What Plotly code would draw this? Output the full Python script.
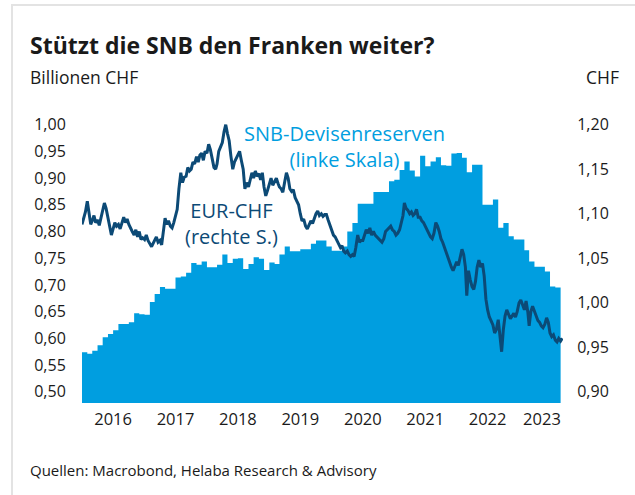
import plotly.graph_objects as go
import pandas as pd

# ---------------- data ----------------
# SNB foreign currency reserves, trillion CHF, monthly Jan 2016 .. Aug 2023
reserves_2016 = [0.574, 0.571, 0.577, 0.587, 0.602, 0.608, 0.615, 0.627, 0.627, 0.630, 0.647, 0.645]
reserves_2017 = [0.644, 0.668, 0.683, 0.696, 0.693, 0.693, 0.714, 0.716, 0.723, 0.741, 0.738, 0.744]
reserves_2018 = [0.733, 0.733, 0.738, 0.757, 0.741, 0.749, 0.750, 0.730, 0.739, 0.752, 0.749, 0.728]
reserves_2019 = [0.742, 0.739, 0.757, 0.772, 0.763, 0.763, 0.767, 0.767, 0.777, 0.783, 0.783, 0.772]
reserves_2020 = [0.764, 0.764, 0.772, 0.800, 0.816, 0.852, 0.852, 0.852, 0.874, 0.874, 0.874, 0.894]
reserves_2021 = [0.897, 0.915, 0.931, 0.914, 0.903, 0.942, 0.922, 0.931, 0.939, 0.924, 0.923, 0.946]
reserves_2022 = [0.947, 0.938, 0.911, 0.925, 0.925, 0.850, 0.850, 0.860, 0.807, 0.816, 0.791, 0.785]
reserves_2023 = [0.785, 0.765, 0.744, 0.734, 0.734, 0.725, 0.697, 0.695]
reserves_end = "2023-09-01"

# EUR-CHF, values on the 1st, 11th and 21st of each month
eurchf_2016 = [1.088, 1.094, 1.102, 1.114, 1.100, 1.088, 1.092, 1.098, 1.090, 1.093, 1.087, 1.095,
               1.104, 1.112, 1.106, 1.094, 1.086, 1.076, 1.083, 1.090, 1.086, 1.088, 1.083, 1.090,
               1.096, 1.090, 1.094, 1.088, 1.083, 1.080, 1.076, 1.082, 1.074, 1.080, 1.071, 1.073]
eurchf_2017 = [1.071, 1.076, 1.070, 1.066, 1.063, 1.067, 1.070, 1.074, 1.068, 1.070, 1.065, 1.082,
               1.095, 1.088, 1.092, 1.086, 1.084, 1.090, 1.098, 1.105, 1.128, 1.146, 1.135, 1.141,
               1.142, 1.152, 1.148, 1.150, 1.158, 1.156, 1.164, 1.158, 1.166, 1.168, 1.160, 1.170]
eurchf_2018 = [1.168, 1.178, 1.172, 1.160, 1.152, 1.150, 1.156, 1.170, 1.176, 1.180, 1.192, 1.200,
               1.190, 1.182, 1.165, 1.150, 1.158, 1.162, 1.165, 1.170, 1.160, 1.150, 1.128, 1.135,
               1.130, 1.140, 1.146, 1.140, 1.148, 1.142, 1.145, 1.138, 1.146, 1.130, 1.120, 1.126]
eurchf_2019 = [1.135, 1.140, 1.132, 1.136, 1.140, 1.134, 1.130, 1.128, 1.124, 1.136, 1.146, 1.140,
               1.128, 1.125, 1.127, 1.118, 1.114, 1.110, 1.100, 1.092, 1.094, 1.086, 1.083, 1.088,
               1.092, 1.089, 1.096, 1.100, 1.103, 1.098, 1.100, 1.097, 1.099, 1.099, 1.093, 1.088]
eurchf_2020 = [1.082, 1.076, 1.074, 1.070, 1.066, 1.062, 1.064, 1.058, 1.056, 1.058, 1.054, 1.052,
               1.054, 1.052, 1.062, 1.076, 1.068, 1.070, 1.070, 1.076, 1.082, 1.078, 1.084, 1.076,
               1.080, 1.076, 1.074, 1.072, 1.070, 1.068, 1.072, 1.080, 1.082, 1.084, 1.086, 1.082]
eurchf_2021 = [1.080, 1.076, 1.078, 1.082, 1.090, 1.098, 1.112, 1.106, 1.104, 1.100, 1.102, 1.098,
               1.100, 1.105, 1.096, 1.096, 1.092, 1.090, 1.086, 1.082, 1.078, 1.074, 1.072, 1.078,
               1.090, 1.086, 1.080, 1.072, 1.068, 1.062, 1.056, 1.050, 1.044, 1.040, 1.036, 1.042]
eurchf_2022 = [1.046, 1.042, 1.050, 1.060, 1.054, 1.040, 1.008, 1.036, 1.026, 1.018, 1.015, 1.024,
               1.040, 1.048, 1.040, 1.044, 1.030, 1.004, 0.992, 0.984, 0.980, 0.975, 0.966, 0.970,
               0.981, 0.962, 0.945, 0.970, 0.985, 0.992, 0.986, 0.982, 0.985, 0.988, 0.984, 0.990]
eurchf_2023 = [1.000, 1.003, 0.998, 0.992, 1.002, 0.990, 0.974, 0.990, 0.996, 0.990, 0.985, 0.980,
               0.978, 0.974, 0.972, 0.976, 0.983, 0.978, 0.966, 0.962, 0.964, 0.958, 0.956, 0.960,
               0.957, 0.960]

year_labels = ["2016", "2017", "2018", "2019", "2020", "2021", "2022", "2023"]
year_label_dates = ["2016-07-01", "2017-07-01", "2018-07-01", "2019-07-01",
                    "2020-07-01", "2021-07-01", "2022-07-01", "2023-05-15"]
left_ticks = [0.50, 0.55, 0.60, 0.65, 0.70, 0.75, 0.80, 0.85, 0.90, 0.95, 1.00]
right_ticks = [0.90, 0.95, 1.00, 1.05, 1.10, 1.15, 1.20]

# ---------------- build series ----------------
reserves = (reserves_2016 + reserves_2017 + reserves_2018 + reserves_2019 +
            reserves_2020 + reserves_2021 + reserves_2022 + reserves_2023)
res_x = list(pd.date_range("2016-01-01", periods=len(reserves), freq="MS").strftime("%Y-%m-%d"))
res_x.append(reserves_end)
res_y = reserves + [reserves[-1]]

eurchf = (eurchf_2016 + eurchf_2017 + eurchf_2018 + eurchf_2019 +
          eurchf_2020 + eurchf_2021 + eurchf_2022 + eurchf_2023)
eur_x = []
for m in pd.date_range("2016-01-01", "2023-09-01", freq="MS"):
    for d in (1, 11, 21):
        eur_x.append(m.replace(day=d).strftime("%Y-%m-%d"))
eur_x = eur_x[:len(eurchf)]

# ---------------- layout geometry ----------------
W, H = 635, 495
L, R, T, B = 82, 563, 114, 403
def px(x):
    return (x - L) / (R - L)
def py(y):
    return (B - y) / (B - T)

LIGHT = "#009EE0"
DARK = "#0C4A76"
TXT = "#1a1a1a"
FONT = "Open Sans"

fig = go.Figure()
fig.add_trace(go.Scatter(x=res_x, y=res_y, mode="lines", line=dict(shape="hv", width=0, color=LIGHT),
                         fill="tozeroy", fillcolor=LIGHT, yaxis="y", hoverinfo="skip"))
fig.add_trace(go.Scatter(x=eur_x, y=eurchf, mode="lines", line=dict(width=3, color=DARK),
                         yaxis="y2", hoverinfo="skip"))

fig.update_layout(
    width=W, height=H,
    margin=dict(l=L, r=W - R, t=T, b=H - B, pad=0),
    paper_bgcolor="white", plot_bgcolor="white",
    showlegend=False,
    separators=",.",
    font=dict(family=FONT, size=16, color=TXT),
    xaxis=dict(type="date", range=["2016-01-01", "2023-09-15"], showgrid=False, zeroline=False,
               showline=False, tickmode="array", tickvals=year_label_dates, ticktext=year_labels,
               ticks="outside", ticklen=1, tickcolor="rgba(0,0,0,0)",
               tickfont=dict(size=16.5, color=TXT, family=FONT)),
    yaxis=dict(range=[0.479, 1.020], showgrid=False, zeroline=False, showline=False,
               tickmode="array", tickvals=left_ticks, tickformat=".2f",
               ticks="outside", ticklen=12, tickcolor="rgba(0,0,0,0)",
               tickfont=dict(size=16, color=TXT, family=FONT)),
    yaxis2=dict(range=[0.8874, 1.212], overlaying="y", side="right", showgrid=False,
                zeroline=False, showline=False, tickmode="array", tickvals=right_ticks,
                tickformat=".2f", ticks="outside", ticklen=10, tickcolor="rgba(0,0,0,0)",
                tickfont=dict(size=16, color=TXT, family=FONT)),
)

annotations = [
    dict(text="<b>Stützt die SNB den Franken weiter?</b>", x=px(28), y=py(45), xanchor="left",
         yanchor="middle", font=dict(size=23, color=TXT, family=FONT)),
    dict(text="Billionen CHF", x=px(28), y=py(77), xanchor="left", yanchor="middle",
         font=dict(size=17.5, color=TXT, family=FONT)),
    dict(text="CHF", x=px(621), y=py(77), xanchor="right", yanchor="middle",
         font=dict(size=17.5, color=TXT, family=FONT)),
    dict(text="Quellen: Macrobond, Helaba Research &amp; Advisory", x=px(28), y=py(470),
         xanchor="left", yanchor="middle", font=dict(size=15, color=TXT, family=FONT)),
    dict(text="SNB-Devisenreserven<br>(linke Skala)", x=px(344), y=py(146), xanchor="center",
         yanchor="middle", font=dict(size=20, color=LIGHT, family=FONT)),
    dict(text="EUR-CHF<br>(rechte S.)", x=px(231), y=py(223), xanchor="center",
         yanchor="middle", font=dict(size=20, color=DARK, family=FONT)),
]
for a in annotations:
    a.update(xref="paper", yref="paper", showarrow=False)
fig.update_layout(annotations=annotations)

fig.add_shape(type="rect", xref="paper", yref="paper", x0=px(12), x1=px(660), y0=py(5), y1=py(520),
              line=dict(color="#e3e3e3", width=2), fillcolor="rgba(0,0,0,0)", layer="below")

fig.write_html("out.html", config={"displayModeBar": False},
               post_script="document.body.style.margin='0';")
